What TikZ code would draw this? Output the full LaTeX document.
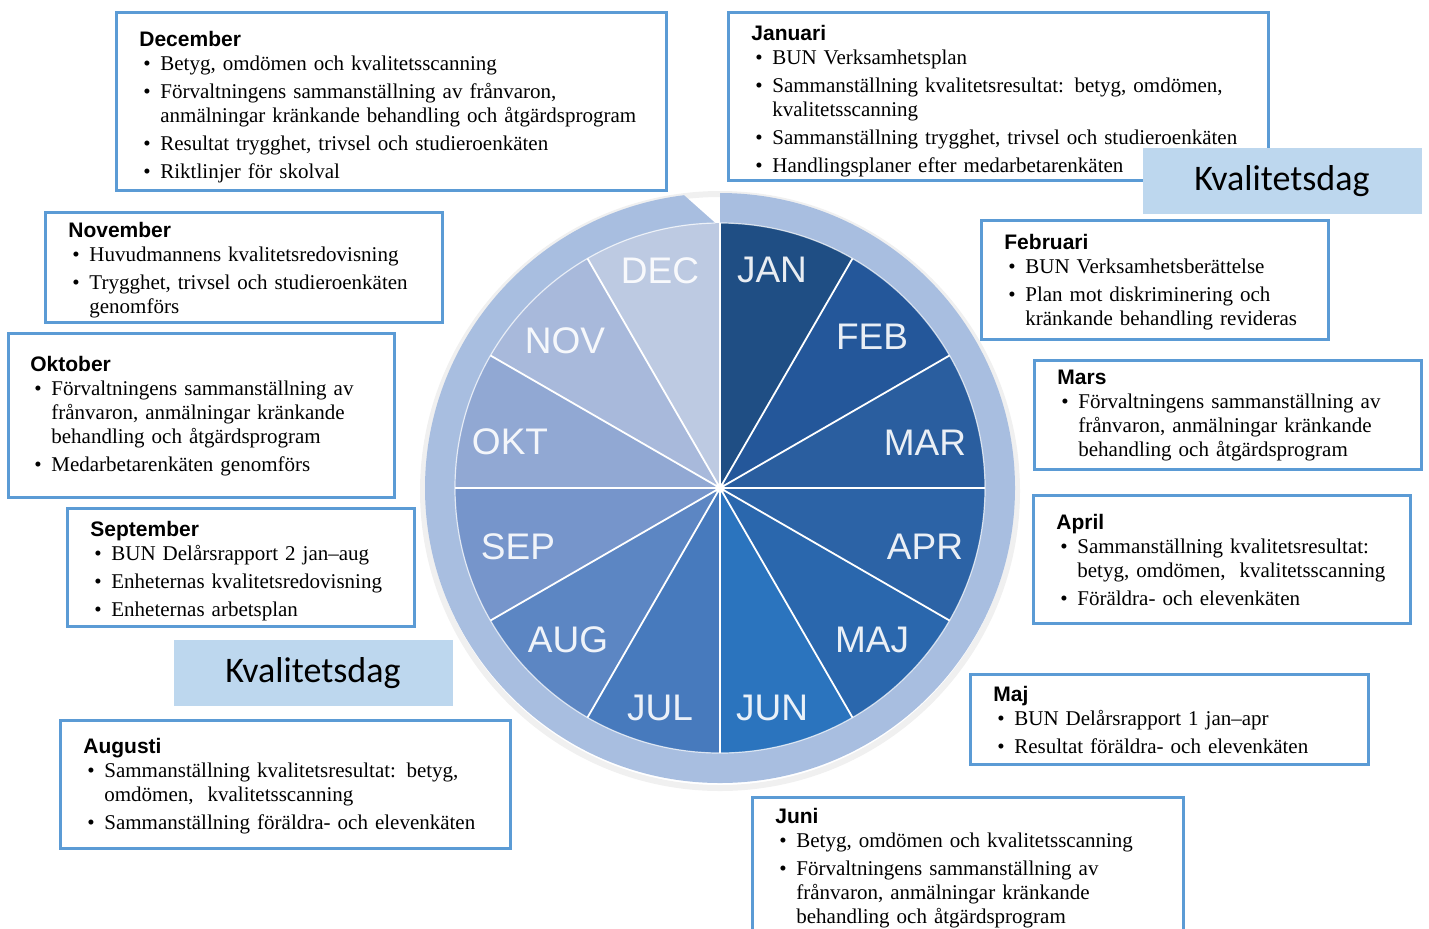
\documentclass[tikz,border=0pt]{standalone}
\usepackage{fontspec}
\setmainfont{Liberation Serif}
\setsansfont{Liberation Sans}
\newfontfamily\dagfont{Carlito}
\usetikzlibrary{calc}

\definecolor{frameblue}{HTML}{5B9BD5}
\definecolor{dagblue}{HTML}{BDD7EE}
\definecolor{ringblue}{HTML}{A8BEE0}
\definecolor{cJan}{HTML}{1F4E84}
\definecolor{cFeb}{HTML}{24579A}
\definecolor{cMar}{HTML}{2A5E9F}
\definecolor{cApr}{HTML}{2C63A6}
\definecolor{cMaj}{HTML}{2A67AD}
\definecolor{cJun}{HTML}{2B74BE}
\definecolor{cJul}{HTML}{477ABD}
\definecolor{cAug}{HTML}{5C86C3}
\definecolor{cSep}{HTML}{7695CB}
\definecolor{cOkt}{HTML}{91A8D3}
\definecolor{cNov}{HTML}{A8B9DB}
\definecolor{cDec}{HTML}{BDCAE2}

% heading and bullet lines of a month box
\newcommand{\mhead}[1]{\noindent{\sffamily\bfseries #1}\par\vspace{-2pt}}
\newcommand{\mitem}[1]{\par\vspace{2pt}\hangindent=10.5pt\hangafter=1\noindent\hspace*{2pt}\makebox[8.5pt][l]{\textbullet}#1\par}

\begin{document}
\begin{tikzpicture}[x=0.5pt, y=-0.5pt,
    frame/.style={line width=1.5pt, draw=frameblue, fill=white},
    txt/.style={anchor=north west, inner sep=0pt, text width=300pt, align=left,
      font=\fontsize{10.5}{12}\selectfont},
    mlabel/.style={text=white, text opacity=0.9, font=\sffamily\fontsize{18.5}{20}\selectfont},
    dag/.style={fill=dagblue, inner sep=0pt, minimum width=139.5pt, minimum height=33pt,
      font=\dagfont\fontsize{18}{20}\selectfont}]
  \clip (0,0) rectangle (1429,928);

  % Wheel
  \begin{scope}[shift={(720,488)}]
    % shadow
    \draw[black!6, line width=3pt] (0,-1.5pt) circle[radius=148.5pt];
    % ring
    \fill[ringblue] (90:147.5pt) arc[start angle=90, end angle=-263, radius=147.5pt]
      -- (91:132.5pt) arc[start angle=91, end angle=450, radius=132.5pt] -- cycle;
    % sectors
    \fill[cJan] (0,0) -- (60:132.5pt) arc[start angle=60, end angle=90, radius=132.5pt] -- cycle;
    \fill[cFeb] (0,0) -- (30:132.5pt) arc[start angle=30, end angle=60, radius=132.5pt] -- cycle;
    \fill[cMar] (0,0) -- (0:132.5pt) arc[start angle=0, end angle=30, radius=132.5pt] -- cycle;
    \fill[cApr] (0,0) -- (-30:132.5pt) arc[start angle=-30, end angle=0, radius=132.5pt] -- cycle;
    \fill[cMaj] (0,0) -- (-60:132.5pt) arc[start angle=-60, end angle=-30, radius=132.5pt] -- cycle;
    \fill[cJun] (0,0) -- (-90:132.5pt) arc[start angle=-90, end angle=-60, radius=132.5pt] -- cycle;
    \fill[cJul] (0,0) -- (-120:132.5pt) arc[start angle=-120, end angle=-90, radius=132.5pt] -- cycle;
    \fill[cAug] (0,0) -- (-150:132.5pt) arc[start angle=-150, end angle=-120, radius=132.5pt] -- cycle;
    \fill[cSep] (0,0) -- (-180:132.5pt) arc[start angle=-180, end angle=-150, radius=132.5pt] -- cycle;
    \fill[cOkt] (0,0) -- (150:132.5pt) arc[start angle=150, end angle=180, radius=132.5pt] -- cycle;
    \fill[cNov] (0,0) -- (120:132.5pt) arc[start angle=120, end angle=150, radius=132.5pt] -- cycle;
    \fill[cDec] (0,0) -- (90:132.5pt) arc[start angle=90, end angle=120, radius=132.5pt] -- cycle;
    % white spokes and rim
    \draw[white, line width=0.9pt] (0,0) -- (0:132.5pt) (0,0) -- (30:132.5pt)
      (0,0) -- (60:132.5pt) (0,0) -- (90:132.5pt) (0,0) -- (120:132.5pt)
      (0,0) -- (150:132.5pt) (0,0) -- (180:132.5pt) (0,0) -- (210:132.5pt)
      (0,0) -- (240:132.5pt) (0,0) -- (270:132.5pt) (0,0) -- (300:132.5pt)
      (0,0) -- (330:132.5pt);
    \draw[white, opacity=0.7, line width=0.6pt] (91:132.5pt) arc[start angle=91, end angle=450, radius=132.5pt];
    \fill[white] (0,0) circle[radius=2.5pt];
  \end{scope}

  % Month labels
  \node[mlabel] (jan) at (772,270) {JAN};
  \node[mlabel] (feb) at (872,337) {FEB};
  \node[mlabel] (mar) at (925,443) {MAR};
  \node[mlabel] (apr) at (925,547) {APR};
  \node[mlabel] (maj) at (872,640) {MAJ};
  \node[mlabel] (jun) at (772,708) {JUN};
  \node[mlabel] (jul) at (660,708) {JUL};
  \node[mlabel] (aug) at (568,640) {AUG};
  \node[mlabel] (sep) at (518,547) {SEP};
  \node[mlabel] (okt) at (510,442) {OKT};
  \node[mlabel] (nov) at (565,341) {NOV};
  \node[mlabel] (dec) at (660,271) {DEC};

  % December
  \draw[frame] (116,12) rectangle (666,190);
  \node[txt] (decbox) at (139,31) {\mhead{December}
    \mitem{Betyg, omdömen och kvalitetsscanning}
    \mitem{Förvaltningens sammanställning av frånvaron,\newline anmälningar kränkande behandling och åtgärdsprogram}
    \mitem{Resultat trygghet, trivsel och studieroenkäten}
    \mitem{Riktlinjer för skolval}};

  % Januari
  \draw[frame] (728,12) rectangle (1268,180);
  \node[txt] (janbox) at (751,25) {\mhead{Januari}
    \mitem{BUN Verksamhetsplan}
    \mitem{Sammanställning kvalitetsresultat: betyg, omdömen,\newline kvalitetsscanning}
    \mitem{Sammanställning trygghet, trivsel och studieroenkäten}
    \mitem{Handlingsplaner efter medarbetarenkäten}};
  \node[dag] (dagjan) at (1282,181) {Kvalitetsdag};

  % November
  \draw[frame] (45,212) rectangle (442,322);
  \node[txt] (novbox) at (68,222) {\mhead{November}
    \mitem{Huvudmannens kvalitetsredovisning}
    \mitem{Trygghet, trivsel och studieroenkäten\newline genomförs}};

  % Oktober
  \draw[frame] (8,333) rectangle (394,497);
  \node[txt] (oktbox) at (30,356) {\mhead{Oktober}
    \mitem{Förvaltningens sammanställning av\newline frånvaron, anmälningar kränkande\newline behandling och åtgärdsprogram}
    \mitem{Medarbetarenkäten genomförs}};

  % September
  \draw[frame] (67,508) rectangle (414,626);
  \node[txt] (sepbox) at (90,521) {\mhead{September}
    \mitem{BUN Delårsrapport 2 jan--aug}
    \mitem{Enheternas kvalitetsredovisning}
    \mitem{Enheternas arbetsplan}};
  \node[dag] (dagaug) at (313,673) {Kvalitetsdag};

  % Augusti
  \draw[frame] (60,720) rectangle (510,848);
  \node[txt] (augbox) at (83,738) {\mhead{Augusti}
    \mitem{Sammanställning kvalitetsresultat: betyg,\newline omdömen,\ \ kvalitetsscanning}
    \mitem{Sammanställning föräldra- och elevenkäten}};

  % Februari
  \draw[frame] (981,220) rectangle (1328,339);
  \node[txt] (febbox) at (1004,234) {\mhead{Februari}
    \mitem{BUN Verksamhetsberättelse}
    \mitem{Plan mot diskriminering och\newline kränkande behandling revideras}};

  % Mars
  \draw[frame] (1034,360) rectangle (1421,469);
  \node[txt] (marbox) at (1057,370) {\mhead{Mars}
    \mitem{Förvaltningens sammanställning av\newline frånvaron, anmälningar kränkande\newline behandling och åtgärdsprogram}};

  % April
  \draw[frame] (1033,495) rectangle (1410,623);
  \node[txt] (aprbox) at (1056,514) {\mhead{April}
    \mitem{Sammanställning kvalitetsresultat:\newline betyg, omdömen,\ \ kvalitetsscanning}
    \mitem{Föräldra- och elevenkäten}};

  % Maj
  \draw[frame] (970,674) rectangle (1368,764);
  \node[txt] (majbox) at (993,686) {\mhead{Maj}
    \mitem{BUN Delårsrapport 1 jan--apr}
    \mitem{Resultat föräldra- och elevenkäten}};

  % Juni (runs off the bottom)
  \draw[frame] (752,797) rectangle (1183,950);
  \node[txt] (junbox) at (775,808) {\mhead{Juni}
    \mitem{Betyg, omdömen och kvalitetsscanning}
    \mitem{Förvaltningens sammanställning av\newline frånvaron, anmälningar kränkande\newline behandling och åtgärdsprogram}};
\end{tikzpicture}
\end{document}
